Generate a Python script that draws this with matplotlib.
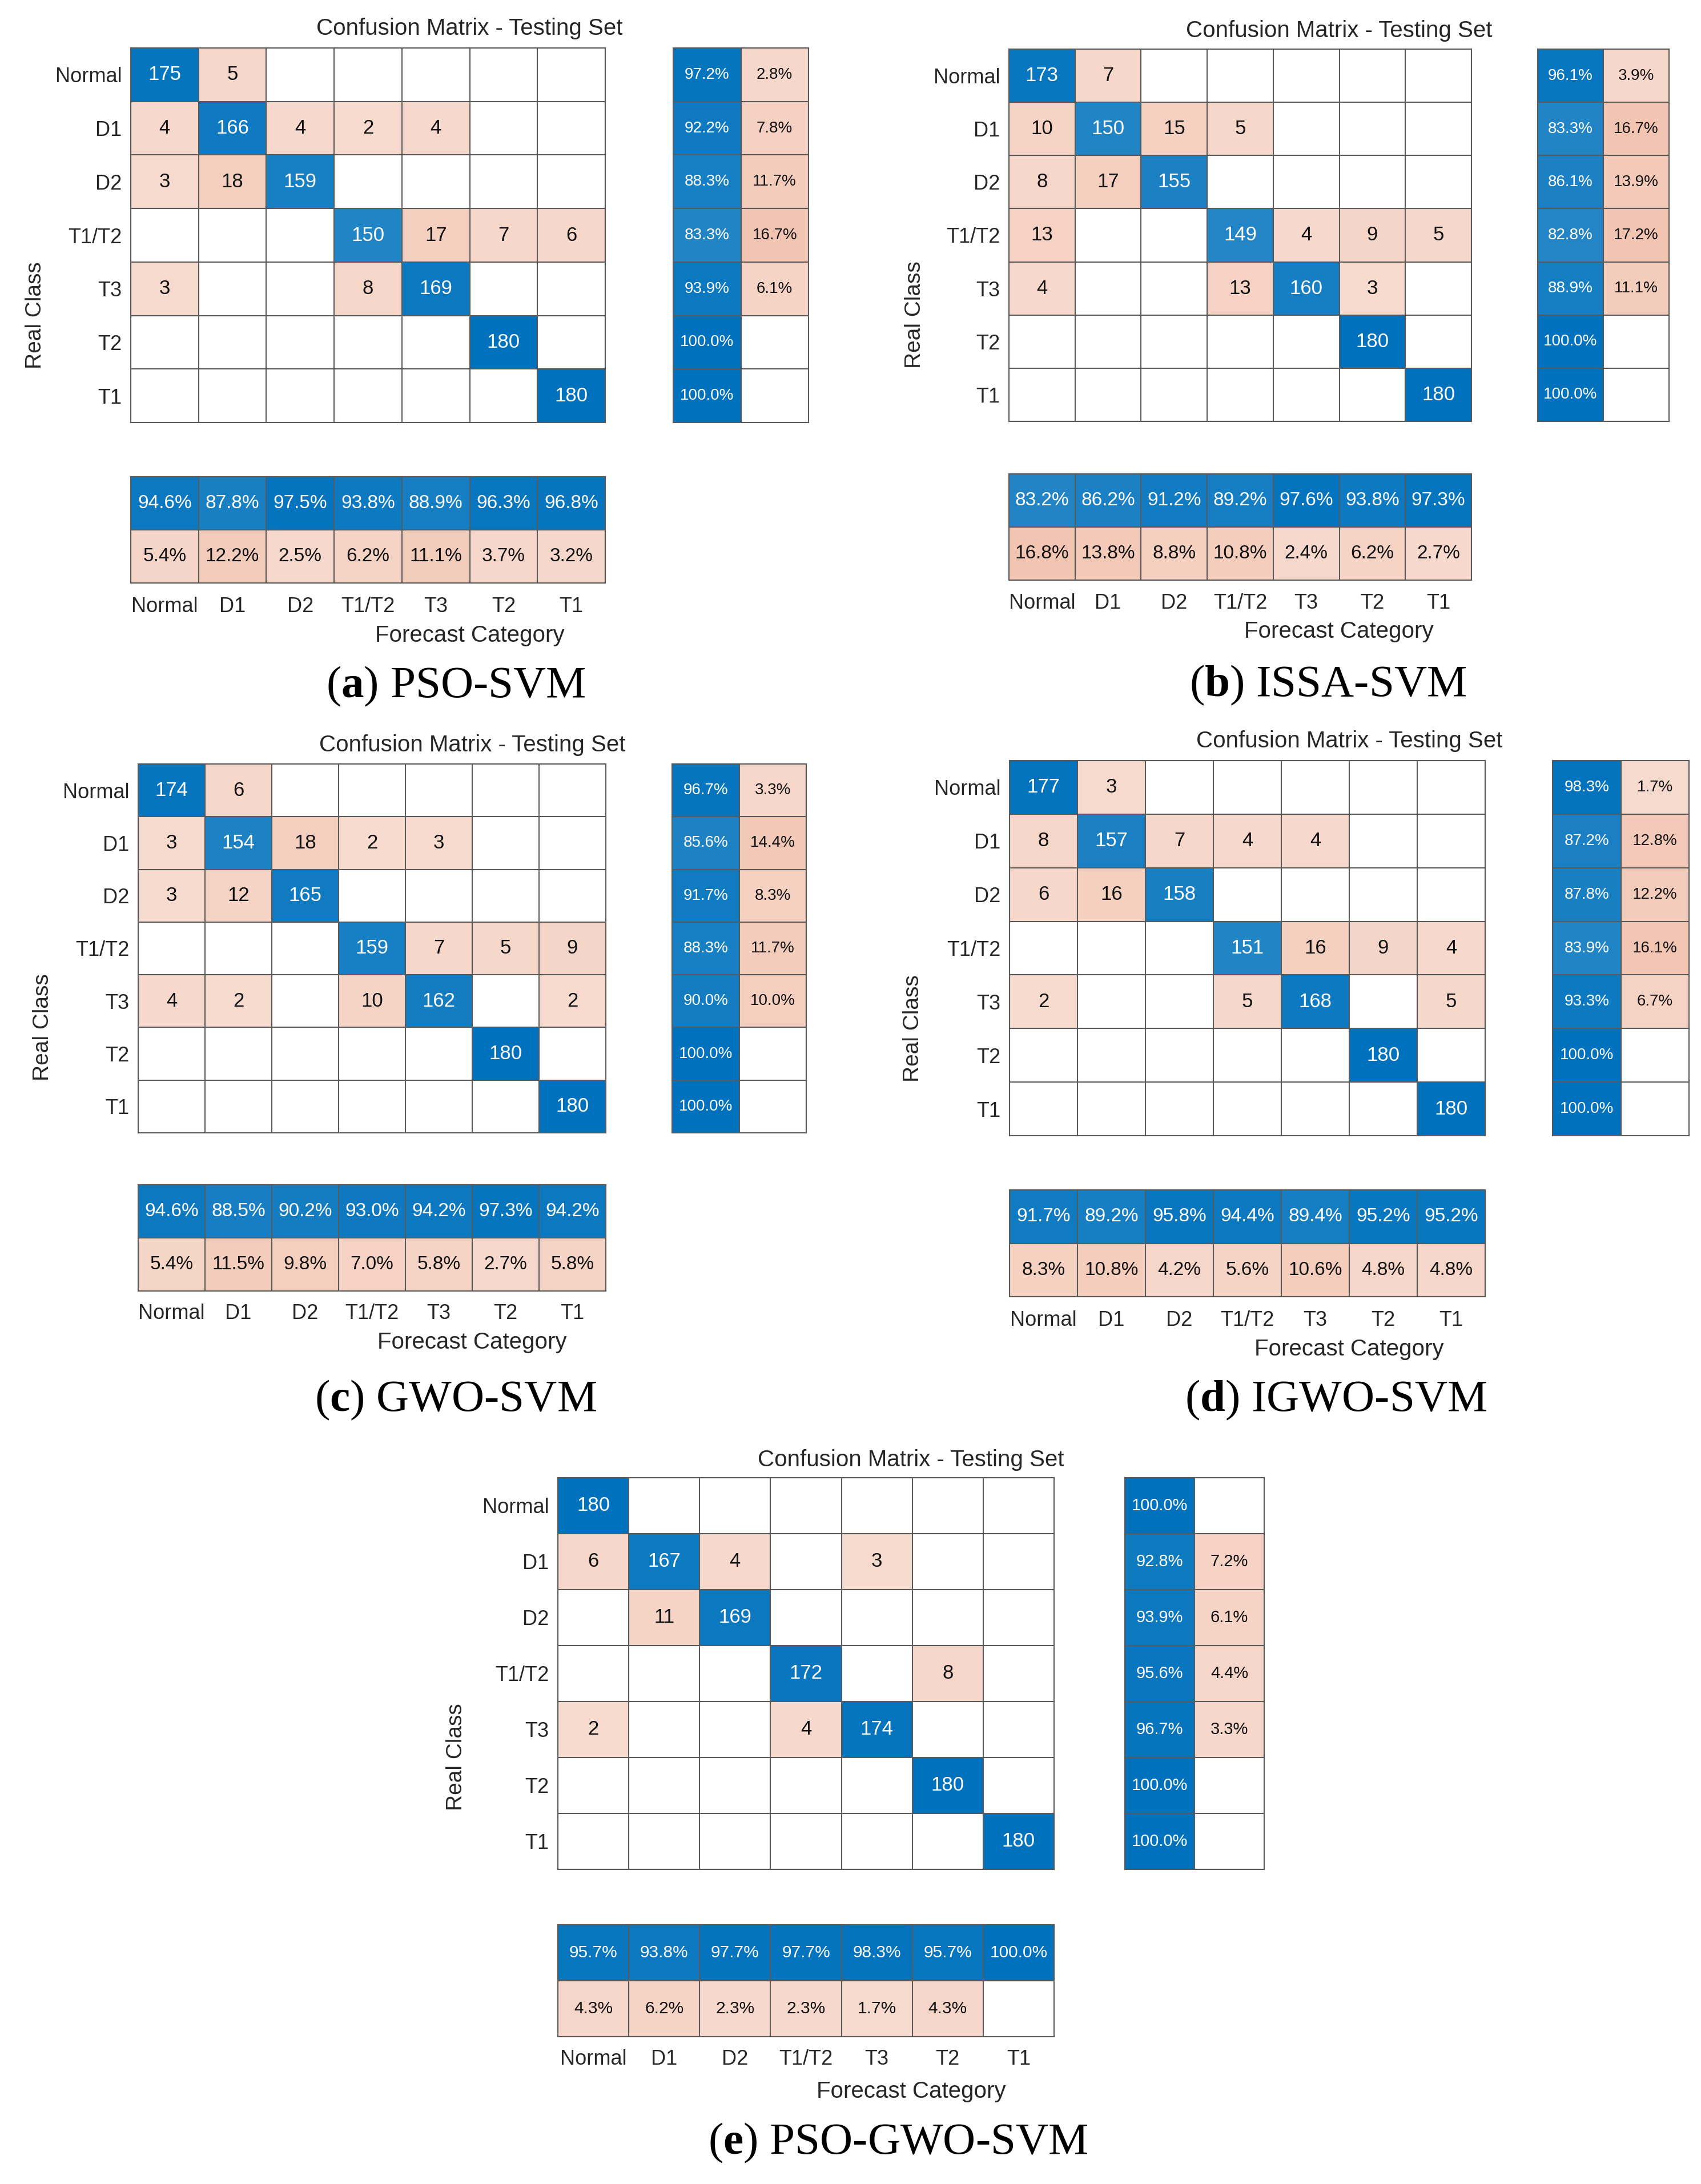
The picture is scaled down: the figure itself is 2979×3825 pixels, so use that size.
import numpy as np
import matplotlib
matplotlib.use("Agg")
import matplotlib.pyplot as plt

plt.rcParams["font.family"] = ["Liberation Sans", "DejaVu Sans"]
plt.rcParams["mathtext.fontset"] = "custom"
plt.rcParams["mathtext.rm"] = "Liberation Serif"
plt.rcParams["mathtext.bf"] = "Liberation Serif:bold"

W, H = 2979, 3825
DPI = 100

classes = ["Normal", "D1", "D2", "T1/T2", "T3", "T2", "T1"]

pso_svm = [
    [175, 5, 0, 0, 0, 0, 0],
    [4, 166, 4, 2, 4, 0, 0],
    [3, 18, 159, 0, 0, 0, 0],
    [0, 0, 0, 150, 17, 7, 6],
    [3, 0, 0, 8, 169, 0, 0],
    [0, 0, 0, 0, 0, 180, 0],
    [0, 0, 0, 0, 0, 0, 180],
]
issa_svm = [
    [173, 7, 0, 0, 0, 0, 0],
    [10, 150, 15, 5, 0, 0, 0],
    [8, 17, 155, 0, 0, 0, 0],
    [13, 0, 0, 149, 4, 9, 5],
    [4, 0, 0, 13, 160, 3, 0],
    [0, 0, 0, 0, 0, 180, 0],
    [0, 0, 0, 0, 0, 0, 180],
]
gwo_svm = [
    [174, 6, 0, 0, 0, 0, 0],
    [3, 154, 18, 2, 3, 0, 0],
    [3, 12, 165, 0, 0, 0, 0],
    [0, 0, 0, 159, 7, 5, 9],
    [4, 2, 0, 10, 162, 0, 2],
    [0, 0, 0, 0, 0, 180, 0],
    [0, 0, 0, 0, 0, 0, 180],
]
igwo_svm = [
    [177, 3, 0, 0, 0, 0, 0],
    [8, 157, 7, 4, 4, 0, 0],
    [6, 16, 158, 0, 0, 0, 0],
    [0, 0, 0, 151, 16, 9, 4],
    [2, 0, 0, 5, 168, 0, 5],
    [0, 0, 0, 0, 0, 180, 0],
    [0, 0, 0, 0, 0, 0, 180],
]
pso_gwo_svm = [
    [180, 0, 0, 0, 0, 0, 0],
    [6, 167, 4, 0, 3, 0, 0],
    [0, 11, 169, 0, 0, 0, 0],
    [0, 0, 0, 172, 0, 8, 0],
    [2, 0, 0, 4, 174, 0, 0],
    [0, 0, 0, 0, 0, 180, 0],
    [0, 0, 0, 0, 0, 0, 180],
]

panel_letters = ["a", "b", "c", "d", "e"]
panel_names = ["PSO-SVM", "ISSA-SVM", "GWO-SVM", "IGWO-SVM", "PSO-GWO-SVM"]
panel_data = [pso_svm, issa_svm, gwo_svm, igwo_svm, pso_gwo_svm]

# layout of each panel in image pixels (x ranges / y ranges from the top)
layouts = [
    dict(mx=(229, 1060), my=(84, 740), sx=(1179, 1416), by=(835, 1021),
         title_y=50, xt_y=1062, fc_y=1113, cap_y=1202, cap_x=798, rc_x=62,
         fs_side=20, fs_bot=24),
    dict(mx=(1767, 2577), my=(86, 738), sx=(2693, 2923), by=(830, 1016),
         title_y=54, xt_y=1056, fc_y=1106, cap_y=1200, cap_x=2326, rc_x=1602,
         fs_side=20, fs_bot=24),
    dict(mx=(242, 1061), my=(1338, 1984), sx=(1177, 1412), by=(2075, 2261),
         title_y=1305, xt_y=2301, fc_y=2351, cap_y=2452, cap_x=798, rc_x=75,
         fs_side=20, fs_bot=24),
    dict(mx=(1768, 2601), my=(1332, 1989), sx=(2719, 2958), by=(2084, 2271),
         title_y=1298, xt_y=2312, fc_y=2363, cap_y=2452, cap_x=2340, rc_x=1599,
         fs_side=20, fs_bot=24),
    dict(mx=(977, 1846), my=(2588, 3274), sx=(1970, 2214), by=(3371, 3567),
         title_y=2557, xt_y=3607, fc_y=3663, cap_y=3753, cap_x=1573, rc_x=799,
         fs_side=21, fs_bot=21.5),
]

BLUE = np.array([0.0, 0.447, 0.741])
ORANGE = np.array([0.85, 0.325, 0.098])
GRID = "#5a5a5a"
TXT = "#262626"


def shade(base, t):
    # MATLAB-like: lightest tint at small values, full colour at t=1
    a = 0.2 + 0.8 * t
    return 1.0 - (1.0 - base) * a


def px_axes(fig, x0, x1, y0, y1):
    return fig.add_axes([x0 / W, 1 - y1 / H, (x1 - x0) / W, (y1 - y0) / H])


def grid_cells(ax, nrow, ncol):
    ax.set_xticks(np.arange(-0.5, ncol, 1), minor=True)
    ax.set_yticks(np.arange(-0.5, nrow, 1), minor=True)
    ax.grid(which="minor", color=GRID, linewidth=1.5)
    ax.tick_params(which="both", length=0)
    for sp in ax.spines.values():
        sp.set_color(GRID)
        sp.set_linewidth(1.5)


def draw_block(ax, vals, is_diag, vmax, fmt, fs):
    vals = np.asarray(vals, dtype=float)
    nrow, ncol = vals.shape
    rgb = np.ones((nrow, ncol, 3))
    for i in range(nrow):
        for j in range(ncol):
            v = vals[i, j]
            if v <= 0:
                continue
            base = BLUE if is_diag[i][j] else ORANGE
            rgb[i, j] = shade(base, v / vmax)
            ax.text(j, i, fmt(v), ha="center", va="center", fontsize=fs,
                    color="white" if is_diag[i][j] else "#111111")
    ax.imshow(rgb, aspect="auto", interpolation="nearest",
              extent=(-0.5, ncol - 0.5, nrow - 0.5, -0.5))
    ax.set_xlim(-0.5, ncol - 0.5)
    ax.set_ylim(nrow - 0.5, -0.5)
    grid_cells(ax, nrow, ncol)
    ax.set_xticks([])
    ax.set_yticks([])


def pct(v):
    return f"{v:.1f}%"


fig = plt.figure(figsize=(W / DPI, H / DPI), dpi=DPI)
fig.patch.set_facecolor("white")

n = len(classes)
for letter, name, data, lay in zip(panel_letters, panel_names, panel_data, layouts):
    cm = np.array(data, dtype=float)
    diag_mask = [[i == j for j in range(n)] for i in range(n)]

    # main matrix
    ax = px_axes(fig, *lay["mx"], *lay["my"])
    draw_block(ax, cm, diag_mask, cm.max(), lambda v: f"{int(v)}", 25)
    ax.set_yticks(range(n))
    ax.set_yticklabels(classes, fontsize=26, color=TXT)
    ax.tick_params(axis="y", pad=11, length=0)

    # row summary (recall / miss rate)
    rows = cm.sum(axis=1)
    tp = np.diag(cm)
    side = np.column_stack([100 * tp / rows, 100 * (rows - tp) / rows])
    axs = px_axes(fig, *lay["sx"], *lay["my"])
    draw_block(axs, side, [[True, False]] * n, 100.0, pct, lay["fs_side"])

    # column summary (precision / false discovery)
    cols = cm.sum(axis=0)
    bot = np.vstack([100 * tp / cols, 100 * (cols - tp) / cols])
    axb = px_axes(fig, *lay["mx"], *lay["by"])
    draw_block(axb, bot, [[True] * n, [False] * n], 100.0, pct, lay["fs_bot"])
    axb.set_xticks(range(n))
    axb.set_xticklabels(classes, fontsize=26, color=TXT)
    pad_pt = (lay["xt_y"] - lay["by"][1]) * 72 / DPI
    axb.tick_params(axis="x", pad=pad_pt, length=0)
    for t in axb.get_xticklabels():
        t.set_va("center")

    cx = (lay["mx"][0] + lay["sx"][1]) / 2
    cy = (lay["my"][0] + lay["by"][1]) / 2
    fig.text(cx / W, 1 - lay["title_y"] / H, "Confusion Matrix - Testing Set",
             ha="center", va="center", fontsize=29, color=TXT)
    fig.text(cx / W, 1 - lay["fc_y"] / H, "Forecast Category",
             ha="center", va="center", fontsize=29, color=TXT)
    fig.text(lay["rc_x"] / W, 1 - cy / H, "Real Class", rotation=90,
             ha="center", va="center", fontsize=28, color=TXT)
    fig.text(lay["cap_x"] / W, 1 - lay["cap_y"] / H,
             rf"($\mathbf{{{letter}}}$) {name}",
             ha="center", va="center", fontsize=57, color="black",
             family="Liberation Serif")

fig.savefig("out.png", dpi=DPI, facecolor="white")
